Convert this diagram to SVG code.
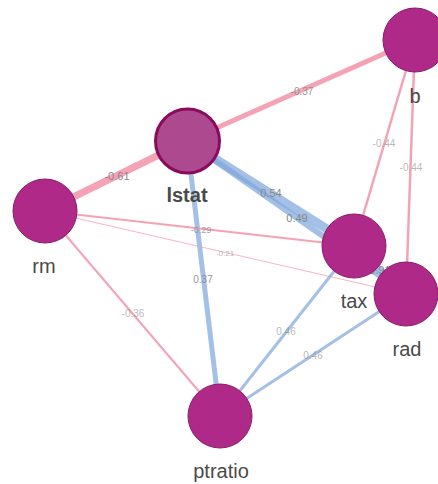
<svg xmlns="http://www.w3.org/2000/svg" width="438" height="484" viewBox="0 0 438 484">
<style>
.neg{stroke:#f4a3b6;fill:none;stroke-linecap:butt}
.pos{stroke:#7ea5dc;fill:none;stroke-opacity:0.7}
.el{font-family:"Liberation Sans",Arial,sans-serif;font-size:10px;fill:#888;text-anchor:middle;dominant-baseline:central}
.node{fill:#af2a88;stroke:#8c1a68;stroke-width:1}
.sel{fill:#ad4a8f;stroke:#8a0a5c;stroke-width:3}
.lab{font-family:"Liberation Sans",Arial,sans-serif;font-size:20px;fill:#4a4a4a;text-anchor:middle}
</style>
<rect width="438" height="484" fill="#ffffff"/>
<g id="connectors">
<line class="neg" x1="187" y1="141" x2="415" y2="40" stroke-width="5"/>
<line class="neg" x1="187" y1="141" x2="45" y2="211" stroke-width="7"/>
<line class="pos" x1="187" y1="141" x2="354" y2="246" stroke-width="9"/>
<line class="pos" x1="187" y1="141" x2="406" y2="294" stroke-width="6"/>
<line class="pos" x1="354" y1="246" x2="406" y2="294" stroke-width="7"/>
<line class="pos" x1="187" y1="141" x2="220" y2="416" stroke-width="5"/>
<line class="neg" x1="45" y1="211" x2="354" y2="246" stroke-width="2"/>
<line class="neg" x1="45" y1="211" x2="406" y2="294" stroke-width="1" stroke-opacity="0.8"/>
<line class="neg" x1="45" y1="211" x2="220" y2="416" stroke-width="2"/>
<line class="neg" x1="415" y1="40" x2="354" y2="246" stroke-width="2.5"/>
<line class="neg" x1="415" y1="40" x2="406" y2="294" stroke-width="2.5"/>
<line class="pos" x1="354" y1="246" x2="220" y2="416" stroke-width="3"/>
<line class="pos" x1="406" y1="294" x2="220" y2="416" stroke-width="3"/>
<text class="el" x="302" y="91" fill-opacity="0.9">-0.37</text>
<text class="el" x="117" y="176" style="font-size:11px">-0.61</text>
<text class="el" x="271" y="193" style="font-size:11px">0.54</text>
<text class="el" x="297" y="218" style="font-size:11px">0.49</text>
<text class="el" x="380" y="270" style="font-size:11px">0.91</text>
<text class="el" x="203" y="279" fill-opacity="0.9">0.37</text>
<text class="el" x="201" y="230" style="font-size:9px" fill-opacity="0.8">-0.29</text>
<text class="el" x="225" y="253" style="font-size:8px" fill-opacity="0.6">-0.21</text>
<text class="el" x="133" y="313" fill-opacity="0.6">-0.36</text>
<text class="el" x="384" y="143" fill-opacity="0.6">-0.44</text>
<text class="el" x="411" y="167" fill-opacity="0.6">-0.44</text>
<text class="el" x="286" y="331" fill-opacity="0.6">0.46</text>
<text class="el" x="313" y="355" fill-opacity="0.6">0.46</text>
</g>
<g id="node-b"><circle class="node" cx="415" cy="40" r="32"/><text class="lab" x="415" y="103">b</text></g>
<g id="node-rm"><circle class="node" cx="45" cy="211" r="32"/><text class="lab" x="44" y="273">rm</text></g>
<g id="node-tax"><circle class="node" cx="354" cy="246" r="32"/><text class="lab" x="354" y="308">tax</text></g>
<g id="node-rad"><circle class="node" cx="406" cy="294" r="32"/><text class="lab" x="407" y="356">rad</text></g>
<g id="node-ptratio"><circle class="node" cx="220" cy="416" r="32"/><text class="lab" x="221" y="478">ptratio</text></g>
<g id="node-lstat"><circle class="sel" cx="187.5" cy="141" r="32"/><text class="lab" x="187" y="202" style="font-weight:bold">lstat</text></g>
</svg>
